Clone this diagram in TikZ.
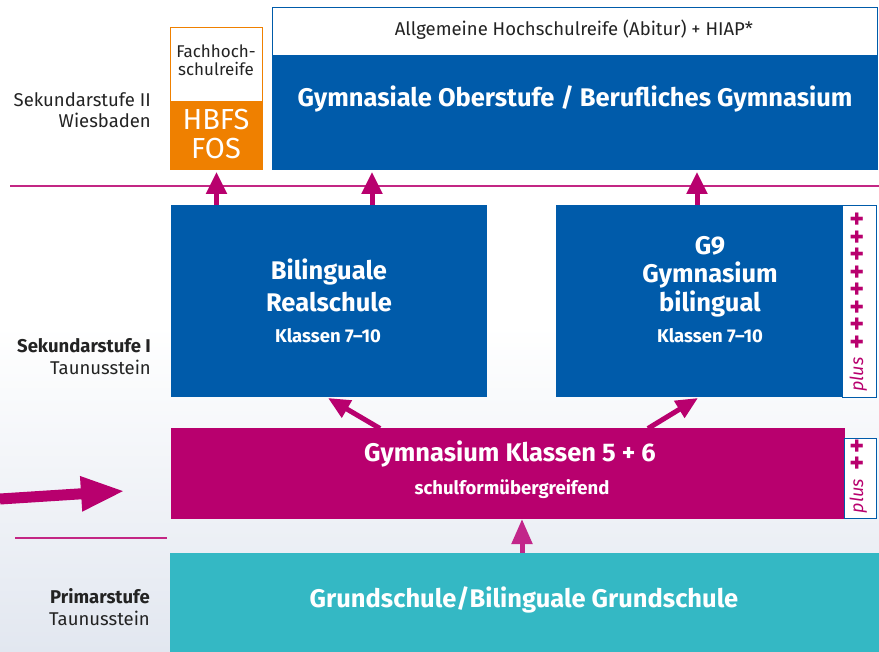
\documentclass[tikz,border=0pt]{standalone}
\usepackage{fontspec}
\setmainfont{Fira Sans}
\usetikzlibrary{arrows.meta,calc}
\definecolor{dblue}{RGB}{0,91,170}
\definecolor{mag}{RGB}{184,0,110}
\definecolor{magl}{RGB}{194,38,138}
\definecolor{orng}{RGB}{239,128,0}
\definecolor{tealb}{RGB}{52,184,196}
\definecolor{bgB}{RGB}{226,231,240}
\definecolor{lbltext}{RGB}{35,35,35}
\newcommand{\fsz}[1]{\fontsize{#1}{#1}\selectfont}
\newcommand{\pls}{\makebox[17.5pt]{\upshape\bfseries\fsz{28}\raisebox{-3.5pt}{+}}}
\begin{document}
\begin{tikzpicture}[x=1pt,y=-1pt,
  box/.style={anchor=north west, inner sep=0pt, outer sep=0pt, draw=none},
  bluebox/.style={box, fill=dblue},
  strip/.style={box, fill=white, draw=dblue, line width=0.8pt},
  lbl/.style={anchor=base east, inner sep=0pt, text=lbltext, font=\fsz{18.5}},
  lblb/.style={lbl, font=\bfseries\fsz{18.5}},
  wt/.style={anchor=base, inner sep=0pt, text=white, font=\bfseries\fsz{25.5}},
  wts/.style={anchor=base, inner sep=0pt, text=white, font=\bfseries\fsz{18.5}},
  plw/.style={inner sep=0pt, text=mag, font=\itshape\fsz{18}, rotate=90, anchor=base west},
  arr/.style={draw=mag, line width=5pt, -{Triangle[length=22pt,width=20pt]}},
  darr/.style={draw=mag, line width=5pt, -{Triangle[length=22pt,width=19pt]}},
  uarr/.style={draw=magl, line width=5pt, -{Triangle[length=25pt,width=20pt]}},
  bigarr/.style={draw=mag, line width=11pt, -{Triangle[length=44pt,width=32pt]}},
  sep/.style={draw=mag!85, line width=1.2pt}
]
% background
\shade[top color=white, bottom color=bgB, middle color=white] (0,0) rectangle (879,652);
\useasboundingbox (0,0) rectangle (879,652);

% level labels
\node[lbl] (l2a) at (151,107) {Sekundarstufe II};
\node[lbl] (l2b) at (151,128) {Wiesbaden};
\node[lblb] (l1a) at (151,353) {Sekundarstufe I};
\node[lbl] (l1b) at (151,375) {Taunusstein};
\node[lblb] (l0a) at (150,603) {Primarstufe};
\node[lbl] (l0b) at (150,625) {Taunusstein};

% Sekundarstufe II boxes
\node[box, fill=white, draw=orng, line width=1pt, minimum width=92pt, minimum height=74pt] (fach) at (170.5,28) {};
\node[box, fill=orng, minimum width=93pt, minimum height=68pt] (fos) at (170,102) {};
\node[anchor=base, inner sep=0pt, text=lbltext, font=\fsz{17}] (fachA) at (216,58) {Fachhoch-};
\node[anchor=base, inner sep=0pt, text=lbltext, font=\fsz{17}] (fachB) at (216,76) {schulreife};
\node[anchor=base, inner sep=0pt, text=white, font=\fsz{29}] (hbfs) at (216,130) {HBFS};
\node[anchor=base, inner sep=0pt, text=white, font=\fsz{29}] (fost) at (216,159) {FOS};

\node[box, fill=white, draw=dblue, line width=0.8pt, minimum width=605pt, minimum height=48pt] (abi) at (272,7) {};
\node[anchor=base, inner sep=0pt, text=lbltext, font=\fsz{18.5}] (abit) at (574,36) {Allgemeine Hochschulreife (Abitur) + HIAP*};
\node[bluebox, minimum width=606pt, minimum height=115pt] (gym) at (271.6,55) {};
\node[wt] (gymt) at (575,107) {Gymnasiale Oberstufe / Berufliches Gymnasium};

% separator lines
\coordinate (s1a) at (10,186);
\coordinate (s1b) at (879,186);
\draw[sep] (s1a) -- (s1b);
\coordinate (s2a) at (15,538);
\coordinate (s2b) at (167,538);
\draw[sep] (s2a) -- (s2b);

% Sekundarstufe I boxes
\node[bluebox, minimum width=316pt, minimum height=192pt] (real) at (171,205) {};
\node[wt] (realA) at (329,280) {Bilinguale};
\node[wt] (realB) at (329,311.5) {Realschule};
\node[wts] (realC) at (328,342.5) {Klassen 7–10};

\node[bluebox, minimum width=286pt, minimum height=192pt] (g9) at (556,205) {};
\node[strip, minimum width=34pt, minimum height=192pt] (g9s) at (842,205) {};
\node[wt] (g9A) at (710,255) {G9};
\node[wt] (g9B) at (710,283) {Gymnasium};
\node[wt] (g9C) at (710,312) {bilingual};
\node[wts] (g9D) at (710,343) {Klassen 7–10};
\node[plw] (gplus) at (863,392) {plus\hspace{7pt}\pls\pls\pls\pls\pls\pls\pls\pls};

% Gymnasium 5+6
\node[box, fill=mag, minimum width=674pt, minimum height=90pt] (g56) at (171,428.5) {};
\node[strip, minimum width=32pt, minimum height=80pt] (g56s) at (844.5,438.5) {};
\node[wt] (g56A) at (510,462) {Gymnasium Klassen 5 + 6};
\node[wts] (g56B) at (512,494) {schulformübergreifend};
\node[plw] (mplus) at (863,513.5) {plus\hspace{7pt}\pls\pls};

% Primarstufe
\node[box, fill=tealb, minimum width=709pt, minimum height=100pt] (gs) at (170,553) {};
\node[wt] (gst) at (524,607) {Grundschule/Bilinguale Grundschule};

% arrows
\draw[arr] (real.north -| fos.south) -- ([yshift=-2pt]fos.south);
\draw[arr] (real.north -| 372,0) -- ([yshift=-2pt]gym.south -| 372,0);
\draw[arr] (g9.north -| 697,0) -- ([yshift=-2pt]gym.south -| 697,0);
\draw[darr] (g56.north -| 380,0) -- ($(real.south -| 328,0)+(0,1)$);
\draw[darr] (g56.north -| 648,0) -- ($(g9.south -| 698,0)+(0,1)$);
\draw[uarr] (gs.north -| 522,0) -- ([yshift=-0.5pt]g56.south -| 522,0);
\coordinate (ba) at (0,499);
\coordinate (bb) at (125,491);
\draw[bigarr] (ba) -- (bb);
\end{tikzpicture}
\end{document}
